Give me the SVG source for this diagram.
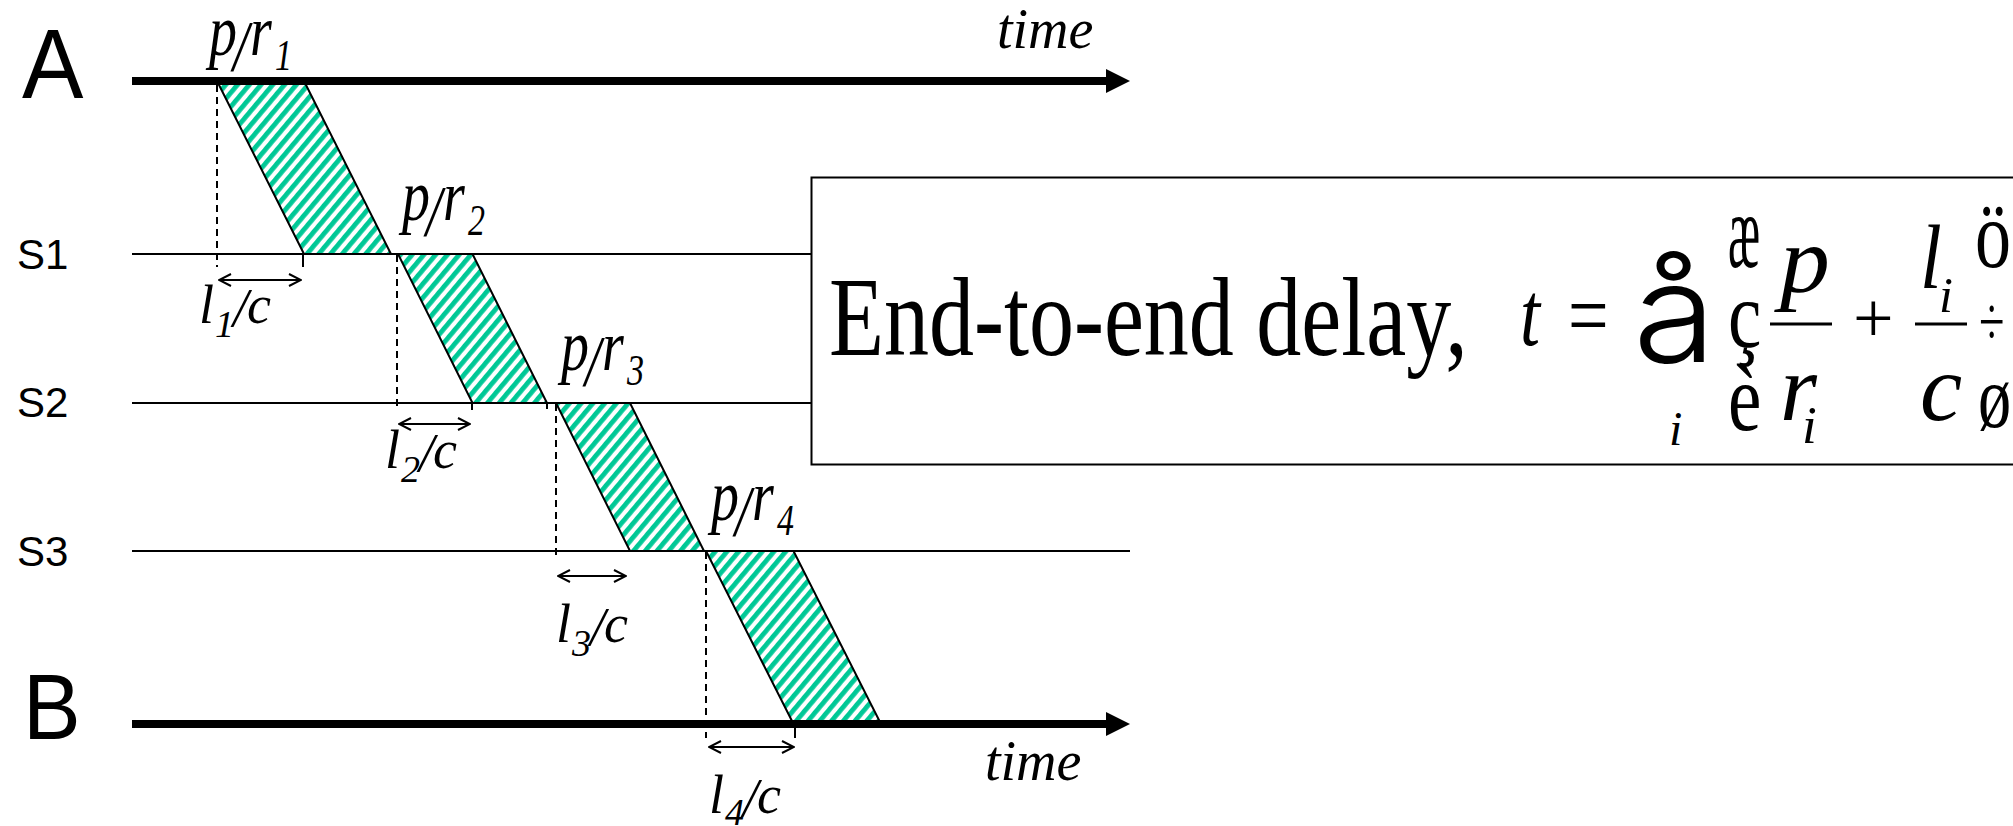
<svg xmlns="http://www.w3.org/2000/svg" width="2013" height="826" viewBox="0 0 2013 826">
<style>
.eq{font-family:"Liberation Serif","Times New Roman",serif;font-style:italic;fill:#000}
.rm{font-family:"Liberation Serif","Times New Roman",serif;fill:#000}
.sans{font-family:"Liberation Sans",Arial,sans-serif;fill:#000}
.light{font-family:Inter,"Open Sans","Liberation Sans",sans-serif;font-weight:300;fill:#000}
.thin{stroke:#000;stroke-width:2;fill:none}
.thick{stroke:#000;stroke-width:8;fill:none}
.dash{stroke:#000;stroke-width:2;stroke-dasharray:7 5;fill:none}
.pkt{fill:url(#hatch);stroke:#000;stroke-width:2}
.dbl{stroke:#000;stroke-width:2;fill:none;marker-start:url(#chev);marker-end:url(#chev)}
</style>
<defs>
<pattern id="hatch" patternUnits="userSpaceOnUse" width="9" height="9" patternTransform="rotate(40)">
<rect width="9" height="9" fill="#fff"/>
<rect width="4.8" height="9" fill="#00c896"/>
</pattern>
<marker id="chev" viewBox="0 0 14 14" refX="13" refY="7" markerWidth="14" markerHeight="14" markerUnits="userSpaceOnUse" orient="auto-start-reverse">
<path d="M1,1 L13,7 L1,13" fill="none" stroke="#000" stroke-width="2"/>
</marker>
</defs>
<rect width="2013" height="826" fill="#fff"/>

<g id="packets">
<polygon class="pkt" points="217,81 304,81 391,254 304,254"/>
<polygon class="pkt" points="398,254 472.5,254 547,403 472.5,403"/>
<polygon class="pkt" points="556,403 630,403 704,551 630,551"/>
<polygon class="pkt" points="706,551 793.5,551 881,724 793.5,724"/>
</g>

<g id="node-A">
<text class="sans" font-size="98" transform="translate(22,98) scale(0.94,1)">A</text>
<line class="thick" x1="132" y1="81" x2="1110" y2="81" stroke-width="7"/>
<polygon points="1106,69 1130,81 1106,93" fill="#000"/>
<text class="eq" font-size="56" x="997" y="48">time</text>
</g>

<g id="node-S1">
<text class="sans" font-size="42" x="17" y="269">S1</text>
<line class="thin" x1="132" y1="254" x2="1130" y2="254"/>
</g>
<g id="node-S2">
<text class="sans" font-size="42" x="17" y="417">S2</text>
<line class="thin" x1="132" y1="403" x2="1130" y2="403"/>
</g>
<g id="node-S3">
<text class="sans" font-size="42" x="17" y="566">S3</text>
<line class="thin" x1="132" y1="551" x2="1130" y2="551"/>
</g>

<g id="node-B">
<text class="sans" font-size="92" transform="translate(23,739) scale(0.94,1)">B</text>
<line class="thick" x1="132" y1="724" x2="1110" y2="724"/>
<polygon points="1106,712 1130,724 1106,736" fill="#000"/>
<text class="eq" font-size="56" x="985" y="780">time</text>
</g>

<g id="connectors">
<line class="dash" x1="217" y1="85" x2="217" y2="267"/>
<line class="dash" x1="397" y1="255" x2="397" y2="409"/>
<line class="dash" x1="556" y1="404" x2="556" y2="560"/>
<line class="dash" x1="706" y1="552" x2="706" y2="738"/>
<line class="thin" x1="303" y1="254" x2="303" y2="267"/>
<line class="thin" x1="472" y1="403" x2="472" y2="410"/>
<line class="thin" x1="547" y1="403" x2="547" y2="409"/>
<line class="thin" x1="795" y1="728" x2="795" y2="738"/>
<line class="dbl" x1="219" y1="280" x2="301" y2="280"/>
<line class="dbl" x1="399" y1="424" x2="470" y2="424"/>
<line class="dbl" x1="558" y1="576" x2="626" y2="576"/>
<line class="dbl" x1="709" y1="747" x2="794" y2="747"/>
</g>

<g id="label-pr1">
<text class="eq" font-size="56" transform="translate(205,55) scale(1,1.3)"><tspan x="4" y="0">p</tspan><tspan x="28" y="11.5">/</tspan><tspan x="45" y="0">r</tspan><tspan x="70" y="11.5" font-size="34">1</tspan></text>
</g>
<g id="label-pr2">
<text class="eq" font-size="56" transform="translate(398,220) scale(1,1.3)"><tspan x="4" y="0">p</tspan><tspan x="28" y="11.5">/</tspan><tspan x="45" y="0">r</tspan><tspan x="70" y="11.5" font-size="34">2</tspan></text>
</g>
<g id="label-pr3">
<text class="eq" font-size="56" transform="translate(557,370) scale(1,1.3)"><tspan x="4" y="0">p</tspan><tspan x="28" y="11.5">/</tspan><tspan x="45" y="0">r</tspan><tspan x="70" y="11.5" font-size="34">3</tspan></text>
</g>
<g id="label-pr4">
<text class="eq" font-size="56" transform="translate(707,520) scale(1,1.3)"><tspan x="4" y="0">p</tspan><tspan x="28" y="11.5">/</tspan><tspan x="45" y="0">r</tspan><tspan x="70" y="11.5" font-size="34">4</tspan></text>
</g>

<g id="label-lc1">
<text class="eq" font-size="54" transform="translate(200,323)"><tspan x="-1" y="0">l</tspan><tspan x="15" y="14" font-size="38">1</tspan><tspan x="33" y="3">/</tspan><tspan x="47" y="0">c</tspan></text>
</g>
<g id="label-lc2">
<text class="eq" font-size="54" transform="translate(386,468)"><tspan x="-1" y="0">l</tspan><tspan x="15" y="14" font-size="38">2</tspan><tspan x="33" y="3">/</tspan><tspan x="47" y="0">c</tspan></text>
</g>
<g id="label-lc3">
<text class="eq" font-size="54" transform="translate(557,642)"><tspan x="-1" y="0">l</tspan><tspan x="15" y="14" font-size="38">3</tspan><tspan x="33" y="3">/</tspan><tspan x="47" y="0">c</tspan></text>
</g>
<g id="label-lc4">
<text class="eq" font-size="54" transform="translate(710,813)"><tspan x="-1" y="0">l</tspan><tspan x="15" y="12" font-size="38">4</tspan><tspan x="33" y="3">/</tspan><tspan x="47" y="0">c</tspan></text>
</g>

<g id="formula-box">
<rect x="811.5" y="177.5" width="1220" height="287" fill="#fff" stroke="#000" stroke-width="2"/>
<text class="rm" font-size="90" transform="translate(829,355) scale(1,1.25)">End-to-end delay,</text>
<text class="eq" font-size="72" transform="translate(1520,345) scale(1,1.25)">t</text>
<text class="rm" font-size="72" transform="translate(1568,346) scale(1,1.25)">=</text>
<text class="light" font-size="138" transform="translate(1633,362) scale(1.1,1)">å</text>
<text class="eq" font-size="48" x="1669" y="445">i</text>
<text class="rm" font-size="80" transform="translate(1728,267) scale(0.6,1.33)">æ</text>
<text class="rm" font-size="80" transform="translate(1728,347) scale(0.94,1.2)">ç</text>
<text class="rm" font-size="80" transform="translate(1728,430) scale(0.94,1.2)">è</text>
<text class="eq" font-size="95" transform="translate(1780,292) scale(1.05,1)">p</text>
<line x1="1770" y1="324" x2="1832" y2="324" stroke="#000" stroke-width="3"/>
<text class="eq" font-size="95" x="1780" y="420">r</text>
<text class="eq" font-size="53" x="1802" y="443">i</text>
<text class="rm" font-size="72" x="1853" y="342">+</text>
<line x1="1915" y1="324" x2="1967" y2="324" stroke="#000" stroke-width="3"/>
<text class="eq" font-size="92" transform="translate(1920,288) scale(0.85,1)">l</text>
<text class="eq" font-size="50" x="1939" y="312">i</text>
<text class="eq" font-size="95" x="1920" y="420">c</text>
<text class="rm" font-size="80" transform="translate(1975,267) scale(0.9,1.2)">ö</text>
<text class="rm" font-size="80" transform="translate(1979,345) scale(0.58,0.86)">÷</text>
<text class="rm" font-size="80" transform="translate(1978,427) scale(0.83,1.1)">ø</text>
</g>
</svg>
